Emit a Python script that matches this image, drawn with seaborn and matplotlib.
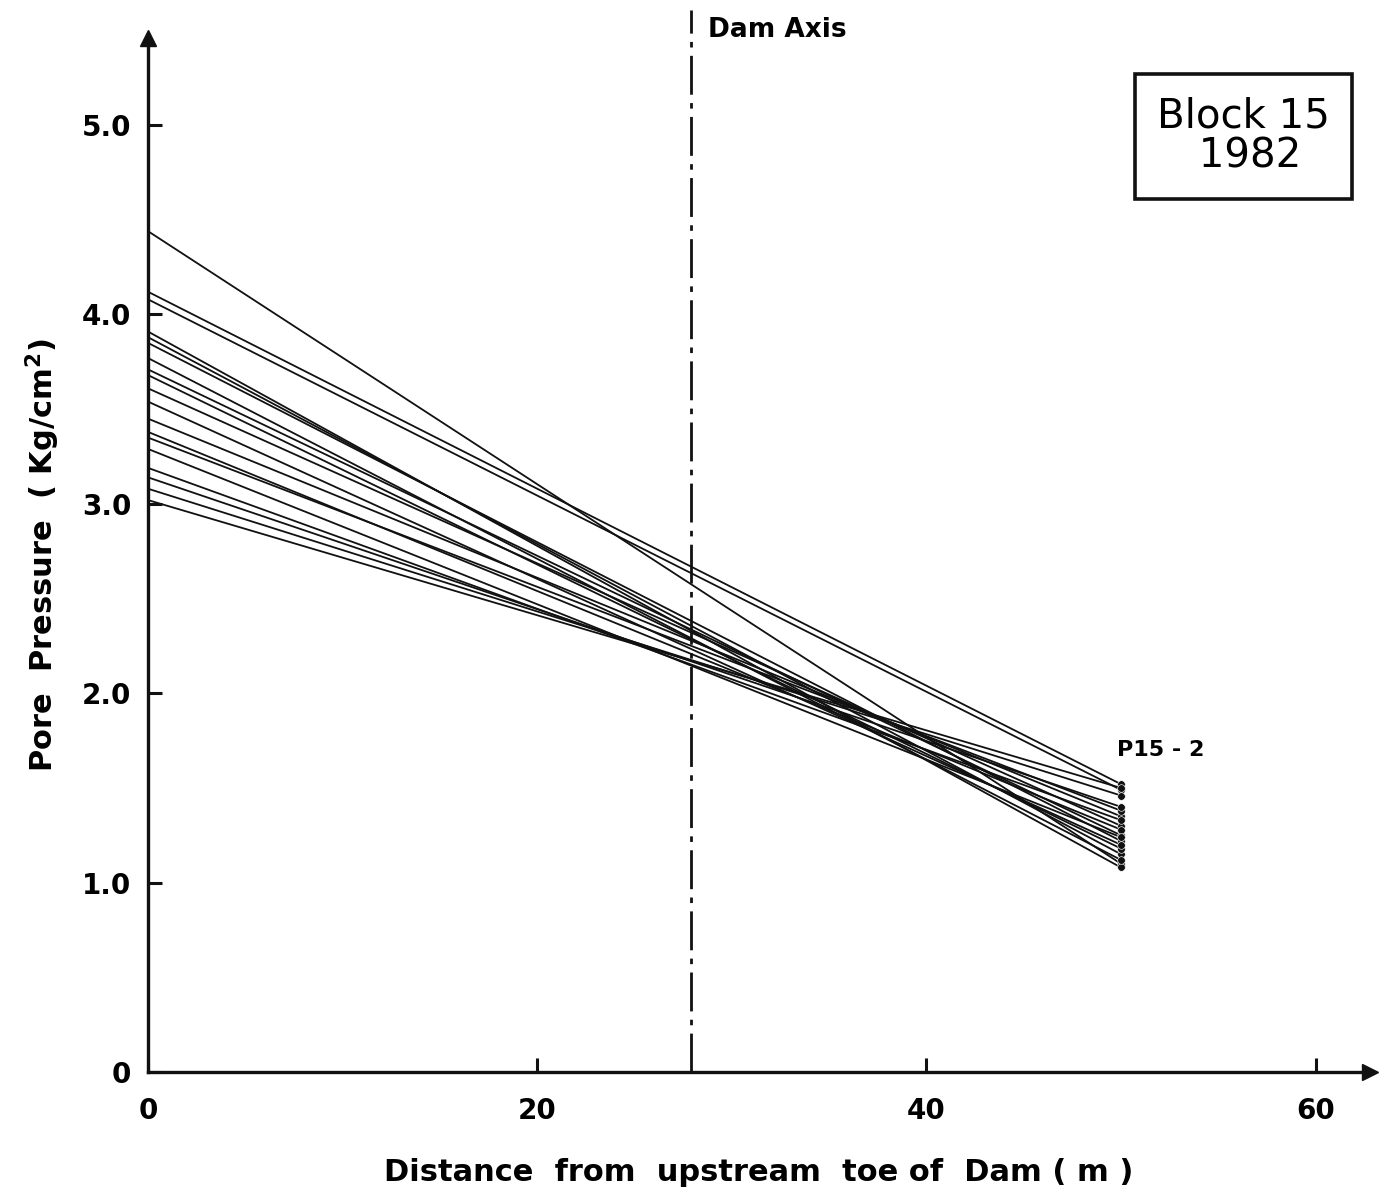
import numpy as np
import pandas as pd
import matplotlib
matplotlib.use("Agg")
import matplotlib.pyplot as plt
import seaborn as sns

# ---- data ----
distance = [0, 50]
start_pressure = [4.44, 4.12, 4.08, 3.91, 3.88, 3.85, 3.77, 3.71, 3.68, 3.61,
                  3.54, 3.45, 3.38, 3.35, 3.29, 3.19, 3.14, 3.08, 3.02]
end_pressure = [1.10, 1.52, 1.49, 1.08, 1.15, 1.22, 1.12, 1.25, 1.18, 1.30,
                1.20, 1.35, 1.28, 1.38, 1.24, 1.33, 1.40, 1.46, 1.50]
x_ticks = [0, 20, 40, 60]
x_ticklabels = ["0", "20", "40", "60"]
y_ticks = [0, 1, 2, 3, 4, 5]
y_ticklabels = ["0", "1.0", "2.0", "3.0", "4.0", "5.0"]
dam_axis_x = 27.9

rows = []
for i, (a, b) in enumerate(zip(start_pressure, end_pressure)):
    rows.append({"line": i, "x": distance[0], "p": a})
    rows.append({"line": i, "x": distance[1], "p": b})
df = pd.DataFrame(rows)

sns.set_theme(style="white")
plt.rcParams['font.family'] = ['DejaVu Sans']
plt.rcParams['text.color'] = '#000000'
plt.rcParams['axes.labelcolor'] = '#000000'
plt.rcParams['xtick.color'] = '#000000'
plt.rcParams['ytick.color'] = '#000000'

fig = plt.figure(figsize=(13.84, 11.98), dpi=100)
ax = fig.add_axes([148/1384, 1 - 1072/1198, (1370-148)/1384, (1072-38)/1198])

sns.lineplot(data=df, x="x", y="p", units="line", estimator=None,
             color="#111111", linewidth=1.3, ax=ax, legend=False)
ends = df[df["x"] == distance[1]]
sns.scatterplot(data=ends, x="x", y="p", color="#111111", s=30, marker="o",
                ax=ax, legend=False, zorder=5)

ax.set_xlim(0, 62.8)
ax.set_ylim(0, 5.46)

for s in ["top", "right"]:
    ax.spines[s].set_visible(False)
for s in ["left", "bottom"]:
    ax.spines[s].set_linewidth(2.4)
    ax.spines[s].set_color("#111111")

# arrow heads
ax.plot(1, 0, ">", transform=ax.transAxes, color="#111111", markersize=12, clip_on=False)
ax.plot(0, 1, "^", transform=ax.transAxes, color="#111111", markersize=12, clip_on=False)

ax.set_xticks(x_ticks)
ax.set_xticklabels(x_ticklabels, fontsize=20, fontweight="bold")
ax.set_yticks(y_ticks)
ax.set_yticklabels(y_ticklabels, fontsize=20, fontweight="bold")
ax.tick_params(axis="both", direction="in", length=10, width=2.2, color="#111111",
               left=True, bottom=True, pad=12)
ax.tick_params(axis="x", pad=18)

ax.set_xlabel("Distance  from  upstream  toe of  Dam ( m )", fontsize=22,
              fontweight="bold", labelpad=24)
ax.set_ylabel("Pore  Pressure  ( Kg/cm$^\\mathbf{2}$)", fontsize=22,
              fontweight="bold", labelpad=14)

# dam axis
ax.axvline(dam_axis_x, ymin=0, ymax=1.027, color="#111111", linewidth=2,
           linestyle=(0, (14, 3, 2, 3)), clip_on=False)
ax.text(dam_axis_x + 0.9, 5.50, "Dam Axis", fontsize=19, fontweight="bold",
        ha="left", va="center", clip_on=False)

ax.text(49.8, 1.70, "P15 - 2", fontsize=16, fontweight="bold", ha="left", va="center")

ax.text(56.3, 4.94, "Block 15\n 1982", fontsize=29, ha="center", va="center",
        linespacing=1.0,
        bbox=dict(boxstyle="square,pad=0.55", facecolor="white",
                  edgecolor="#111111", linewidth=2.6))

fig.savefig("out.png", dpi=100)
